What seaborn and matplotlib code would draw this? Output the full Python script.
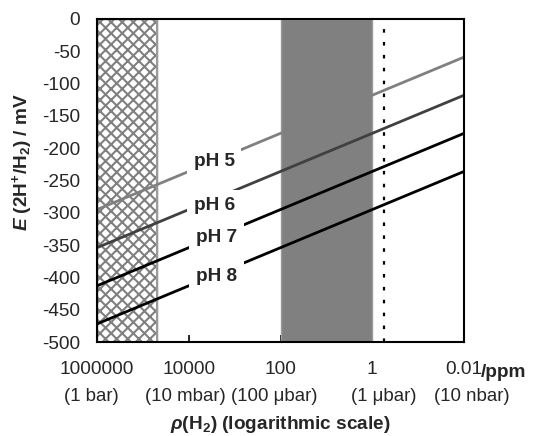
import numpy as np
import pandas as pd
import matplotlib
matplotlib.use("Agg")
import matplotlib.pyplot as plt
import seaborn as sns

# ---- data ----
ph_labels = ["pH 5", "pH 6", "pH 7", "pH 8"]
ppm_ends = [1e6, 0.01]
E_at_1bar = [-295, -354, -413, -472]
E_at_10nbar = [-59, -118, -177, -236]
line_colors = ["#808080", "#404040", "#000000", "#000000"]

x_ticks = [1e6, 1e4, 100, 1, 0.01]
x_tick_labels = ["1000000", "10000", "100", "1", "0.01"]
x_sub_labels = ["(1 bar)", "(10 mbar)", "(100 \u03bcbar)", "(1 \u03bcbar)", "(10 nbar)"]
y_ticks = [0, -50, -100, -150, -200, -250, -300, -350, -400, -450, -500]

hatch_range = [1e6, 5e4]
gray_range = [100, 1]
dotted_x = 0.55

label_x = [2800, 2800, 2450, 2450]
label_y = [-221, -288, -339, -399]

# ---- style ----
sns.set_style("ticks")
plt.rcParams["font.family"] = ["Liberation Sans", "DejaVu Sans"]
plt.rcParams["mathtext.fontset"] = "custom"
plt.rcParams["mathtext.rm"] = "Liberation Sans:bold"
plt.rcParams["mathtext.it"] = "Liberation Sans:italic:bold"
plt.rcParams["mathtext.bf"] = "Liberation Sans:bold"
plt.rcParams["hatch.linewidth"] = 1.5

fs = 13.7

rows = []
for lab, e0, e1 in zip(ph_labels, E_at_1bar, E_at_10nbar):
    rows.append({"ppm": ppm_ends[0], "E": e0, "pH": lab})
    rows.append({"ppm": ppm_ends[1], "E": e1, "pH": lab})
df = pd.DataFrame(rows)

fig = plt.figure(figsize=(5.33, 4.36), dpi=100)
ax = fig.add_axes([97 / 533, 1 - 342 / 436, 367 / 533, 323 / 436])

ax.axvspan(hatch_range[0], hatch_range[1], facecolor="white", edgecolor="#808080",
           hatch="xxx", lw=1.0, zorder=1)
ax.axvline(hatch_range[1], color="#9a9a9a", lw=1.5, zorder=1.5)
ax.axvspan(gray_range[0], gray_range[1], facecolor="#808080", edgecolor="#9a9a9a",
           lw=1.0, zorder=1)
ax.axvline(dotted_x, color="black", lw=1.6, linestyle=(0, (1.6, 4.2)), zorder=2)

sns.lineplot(data=df, x="ppm", y="E", hue="pH", palette=line_colors, lw=2.0,
             legend=False, ax=ax, zorder=3)

ax.set_xscale("log")
ax.set_xlim(1e6, 0.01)
ax.set_ylim(-500, 0)

for lab, lx, ly in zip(ph_labels, label_x, label_y):
    ax.text(lx, ly, lab, fontsize=fs, fontweight="bold", ha="center", va="center",
            zorder=4, bbox=dict(facecolor="white", edgecolor="none", pad=5))

ax.set_xticks(x_ticks)
ax.set_xticklabels(x_tick_labels, fontsize=fs)
ax.minorticks_off()
ax.set_yticks(y_ticks)
ax.set_yticklabels([str(v) for v in y_ticks], fontsize=fs)
ax.tick_params(axis="both", direction="in", length=5, width=1.2, color="black")
ax.tick_params(axis="x", pad=14)
ax.tick_params(axis="y", pad=12)
for s in ax.spines.values():
    s.set_linewidth(1.5)
    s.set_color("black")
    s.set_zorder(5)

ax.set_xlabel("")
ax.set_ylabel("")

sub_pos = [-0.014, 0.242, 0.482, 0.782, 1.022]
for lab, px in zip(x_sub_labels, sub_pos):
    ax.text(px, -0.170, lab, fontsize=fs - 0.3, ha="center", va="center",
            transform=ax.transAxes)

ax.text(1.046, -0.093, "/ppm", fontsize=fs, fontweight="bold", ha="left", va="center",
        transform=ax.transAxes)

fig.text(280 / 533, 1 - 424 / 436, r"$\rho$(H$_2$) (logarithmic scale)", fontsize=fs,
         fontweight="bold", ha="center", va="center")
fig.text(22 / 533, 1 - 162 / 436, r"$E$ (2H$^{+}$/H$_2$) / mV", fontsize=fs,
         fontweight="bold", ha="center", va="center", rotation=90)

fig.savefig("out.png", dpi=100)
